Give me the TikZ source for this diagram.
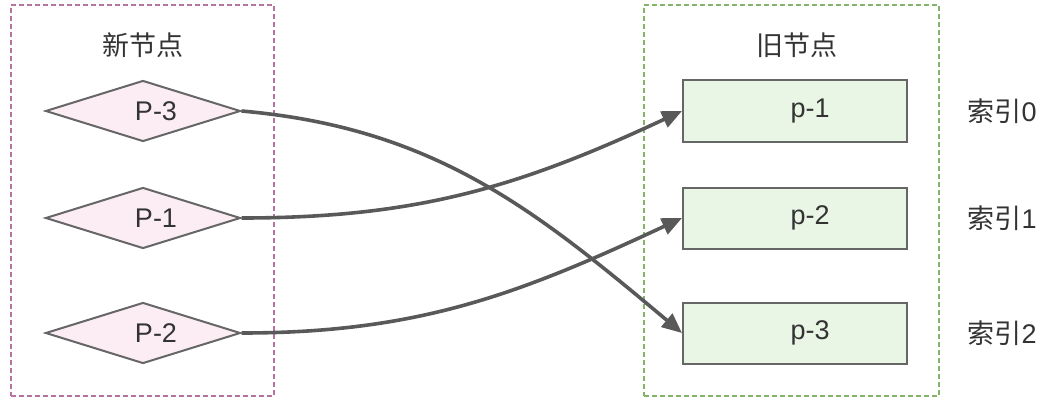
\documentclass[tikz,border=0pt]{standalone}
\usepackage{fontspec}
\setmainfont{Liberation Sans}
\newfontfamily\cjk{Noto Sans CJK SC}
\usepackage{tikz}
\usetikzlibrary{positioning,arrows.meta,shapes.geometric}

\definecolor{pinkfill}{HTML}{FCEDF5}
\definecolor{greenfill}{HTML}{E9F5E5}
\definecolor{pinkdash}{HTML}{B5739D}
\definecolor{greendash}{HTML}{82B366}
\definecolor{shapeline}{HTML}{666666}
\definecolor{linkline}{HTML}{595959}
\definecolor{txt}{HTML}{333333}

\begin{document}
\begin{tikzpicture}[
    x=1pt, y=-1pt,
    font=\fontsize{27}{30}\selectfont, text=txt,
    grp/.style={dashed, line width=1.3pt, dash pattern=on 5pt off 3pt},
    newnode/.style={diamond, draw=shapeline, line width=2pt, fill=pinkfill,
                    minimum width=195pt, minimum height=61pt, inner sep=0pt, aspect=3.2},
    oldnode/.style={rectangle, draw=shapeline, line width=2pt, fill=greenfill,
                    minimum width=224pt, minimum height=61pt, inner sep=0pt},
    link/.style={draw=linkline, line width=3.6pt, -{Triangle[length=20pt,width=17pt]}},
  ]
    \useasboundingbox (0,0) rectangle (1056,401);

    % ---------- groups ----------
    \node[grp, draw=pinkdash, minimum width=263pt, minimum height=391pt, inner sep=0pt]
      (newgrp) at (142.5,200.5) {};
    \node[grp, draw=greendash, minimum width=295pt, minimum height=391pt, inner sep=0pt]
      (oldgrp) at (791.5,200.5) {};
    \node (newtitle) at (143,45) {\cjk 新节点};
    \node (oldtitle) at (797,45) {\cjk 旧节点};

    % ---------- new nodes ----------
    \node[newnode] (P3) at (143,111) {\hspace*{26pt}P-3};
    \node[newnode] (P1) at (143,218) {\hspace*{26pt}P-1};
    \node[newnode] (P2) at (143,333) {\hspace*{26pt}P-2};

    % ---------- old nodes ----------
    \node[oldnode] (o1) at (795,111) {\hspace*{30pt}p-1};
    \node[oldnode] (o2) at (795,218) {\hspace*{30pt}p-2};
    \node[oldnode] (o3) at (795,333) {\hspace*{30pt}p-3};
    \node (i0) at (1002,111) {{\cjk 索引}0};
    \node (i1) at (1002,218) {{\cjk 索引}1};
    \node (i2) at (1002,333) {{\cjk 索引}2};

    % ---------- moves ----------
    \draw[link] (P3.east) to[out=-5, in=140] (o3.west);
    \draw[link] (P1.east) to[out=0, in=205] (o1.west);
    \draw[link] (P2.east) to[out=0, in=205] (o2.west);
\end{tikzpicture}
\end{document}
